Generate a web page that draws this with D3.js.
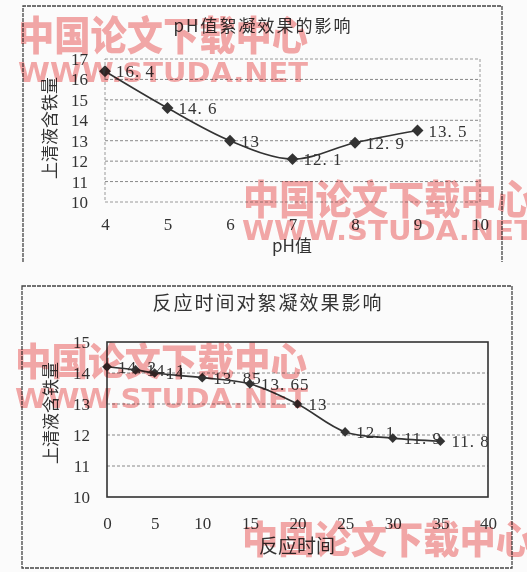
<!DOCTYPE html>
<html>
<head>
<meta charset="utf-8">
<script src="https://cdn.jsdelivr.net/npm/d3@7"></script>
<style>
  body { margin: 0; background: #fbfbfb; }
  svg { display: block; }
</style>
</head>
<body>
<svg id="chart" width="527" height="572"></svg>
<script>
// chart 1: pH
var phX = [4, 5, 6, 7, 8, 9];
var phY = [16.4, 14.6, 13, 12.1, 12.9, 13.5];
var phXTicks = [4, 5, 6, 7, 8, 9, 10];
var phYTicks = [10, 11, 12, 13, 14, 15, 16, 17];

// chart 2: reaction time
var timeX = [0, 3, 5, 10, 15, 20, 25, 30, 35];
var timeY = [14.2, 14.1, 14, 13.85, 13.65, 13, 12.1, 11.9, 11.8];
var timeXTicks = [0, 5, 10, 15, 20, 25, 30, 35, 40];
var timeYTicks = [10, 11, 12, 13, 14, 15];

var svg = d3.select('#chart');
var ink = '#333';
var serif = '"Liberation Serif", "DejaVu Serif", serif';
var cjk = '"Noto Sans CJK SC", sans-serif';

function drawChart(opt) {
    var g = svg.append('g');

    // outer frame
    var b = opt.box;
    if (opt.openBottom) {
        g.append('path')
            .attr('d', `M${b.x1},${b.y2} V${b.y1} H${b.x2} V${b.y2}`)
            .attr('fill', 'none').attr('stroke', '#444').attr('stroke-width', 1.3)
            .attr('stroke-dasharray', '4,1');
    } else {
        g.append('rect')
            .attr('x', b.x1).attr('y', b.y1)
            .attr('width', b.x2 - b.x1).attr('height', b.y2 - b.y1)
            .attr('fill', 'none').attr('stroke', '#444').attr('stroke-width', 1.3)
            .attr('stroke-dasharray', '4,1');
    }

    var xScale = d3.scaleLinear().domain(opt.xDomain).range([opt.plot.left, opt.plot.right]);
    var yScale = d3.scaleLinear().domain(opt.yDomain).range([opt.plot.bottom, opt.plot.top]);

    // gridlines
    g.selectAll('.grid')
        .data(opt.yTicks.slice(1, opt.yTicks.length - 1))
        .enter()
        .append('line')
        .attr('x1', opt.plot.left).attr('x2', opt.plot.right)
        .attr('y1', d => yScale(d)).attr('y2', d => yScale(d))
        .attr('stroke', '#888').attr('stroke-width', 1)
        .attr('stroke-dasharray', '3,2');

    // plot area border
    g.append('rect')
        .attr('x', opt.plot.left).attr('y', opt.plot.top)
        .attr('width', opt.plot.right - opt.plot.left)
        .attr('height', opt.plot.bottom - opt.plot.top)
        .attr('fill', 'none')
        .attr('stroke', opt.solidPlot ? '#333' : '#999')
        .attr('stroke-width', opt.solidPlot ? 1.6 : 1)
        .attr('stroke-dasharray', opt.solidPlot ? null : '3,2');

    // axes (labels only)
    var yAxis = d3.axisLeft(yScale).tickValues(opt.yTicks).tickFormat(d3.format('d'))
        .tickSize(0).tickPadding(17);
    var xAxis = d3.axisBottom(xScale).tickValues(opt.xTicks).tickFormat(d3.format('d'))
        .tickSize(0).tickPadding(opt.xPad);
    var ya = g.append('g').attr('transform', `translate(${opt.plot.left},0)`).call(yAxis);
    var xa = g.append('g').attr('transform', `translate(0,${opt.plot.bottom})`).call(xAxis);
    [ya, xa].forEach(a => {
        a.select('.domain').remove();
        a.selectAll('text')
            .style('font-family', serif)
            .style('font-size', '17px')
            .style('fill', ink);
    });

    // smooth line
    var pts = opt.xs.map((x, i) => [x, opt.ys[i]]);
    var line = d3.line()
        .x(d => xScale(d[0]))
        .y(d => yScale(d[1]))
        .curve(d3.curveCatmullRom.alpha(0.5));
    g.append('path')
        .attr('d', line(pts))
        .attr('fill', 'none')
        .attr('stroke', ink)
        .attr('stroke-width', 1.6);

    // diamond markers
    g.selectAll('.mark')
        .data(pts)
        .enter()
        .append('path')
        .attr('d', d3.symbol().type(d3.symbolDiamond2).size(opt.markSize))
        .attr('transform', d => `translate(${xScale(d[0])},${yScale(d[1])})`)
        .attr('fill', ink);

    // value labels
    g.selectAll('.val')
        .data(pts)
        .enter()
        .append('text')
        .attr('x', d => xScale(d[0]) + 11)
        .attr('y', d => yScale(d[1]) + 6)
        .style('font-family', serif)
        .style('font-size', '17px')
        .style('letter-spacing', '1px')
        .style('fill', ink)
        .text(d => d3.format('')(d[1]).replace('.', '. '));

    // titles
    g.append('text')
        .attr('x', opt.title.x).attr('y', opt.title.y)
        .attr('text-anchor', 'middle')
        .style('font-family', cjk)
        .style('font-size', opt.title.size + 'px')
        .style('letter-spacing', opt.title.ls + 'px')
        .style('fill', ink)
        .text(opt.title.text);

    g.append('text')
        .attr('x', opt.xTitle.x).attr('y', opt.xTitle.y)
        .attr('text-anchor', 'middle')
        .style('font-family', cjk)
        .style('font-size', opt.xTitle.size + 'px')
        .style('fill', ink)
        .text(opt.xTitle.text);

    g.append('text')
        .attr('transform', `translate(${opt.yTitle.x},${opt.yTitle.y}) rotate(-90)`)
        .attr('text-anchor', 'middle')
        .attr('dy', '0.35em')
        .style('font-family', cjk)
        .style('font-size', '17px')
        .style('fill', ink)
        .text('上清液含铁量');
}

drawChart({
    box: { x1: 23, y1: 6, x2: 502, y2: 262 },
    openBottom: true,
    plot: { left: 105, right: 480, top: 59, bottom: 202 },
    xDomain: [4, 10], yDomain: [10, 17],
    xTicks: phXTicks, yTicks: phYTicks, xPad: 16,
    xs: phX, ys: phY, markSize: 90,
    solidPlot: false,
    title: { text: 'pH值絮凝效果的影响', x: 263, y: 32, size: 17, ls: 2 },
    xTitle: { text: 'pH值', x: 292, y: 252, size: 17 },
    yTitle: { x: 50, y: 128 }
});

drawChart({
    box: { x1: 22, y1: 286, x2: 512, y2: 568 },
    openBottom: false,
    plot: { left: 107, right: 488, top: 342, bottom: 497 },
    xDomain: [0, 40], yDomain: [10, 15],
    xTicks: timeXTicks, yTicks: timeYTicks, xPad: 20,
    xs: timeX, ys: timeY, markSize: 60,
    solidPlot: true,
    title: { text: '反应时间对絮凝效果影响', x: 268, y: 310, size: 19, ls: 2 },
    xTitle: { text: '反应时间', x: 297, y: 553, size: 19 },
    yTitle: { x: 51, y: 413 }
});

// watermarks from the scanned source
var marks = [
    { t: '中国论文下载中心', x: 18, y: 50, s: 40, w: 290, f: cjk },
    { t: 'WWW.STUDA.NET', x: 18, y: 82, s: 26, w: 290, f: '"DejaVu Sans", sans-serif' },
    { t: '中国论文下载中心', x: 243, y: 214, s: 40, w: 290, f: cjk },
    { t: 'WWW.STUDA.NET', x: 242, y: 240, s: 26, w: 292, f: '"DejaVu Sans", sans-serif' },
    { t: '中国论文下载中心', x: 15, y: 375, s: 38, w: 292, f: cjk },
    { t: 'WWW.STUDA.NET', x: 15, y: 408, s: 26, w: 293, f: '"DejaVu Sans", sans-serif' },
    { t: '中国论文下载中心', x: 242, y: 553, s: 38, w: 290, f: cjk }
];
svg.selectAll('.wm')
    .data(marks)
    .enter()
    .append('text')
    .attr('x', d => d.x).attr('y', d => d.y)
    .attr('textLength', d => d.w)
    .attr('lengthAdjust', 'spacingAndGlyphs')
    .style('font-family', d => d.f)
    .style('font-size', d => d.s + 'px')
    .style('font-weight', 900)
    .style('fill', '#ee6f6f')
    .style('opacity', 0.6)
    .style('mix-blend-mode', 'multiply')
    .text(d => d.t);
</script>
</body>
</html>
